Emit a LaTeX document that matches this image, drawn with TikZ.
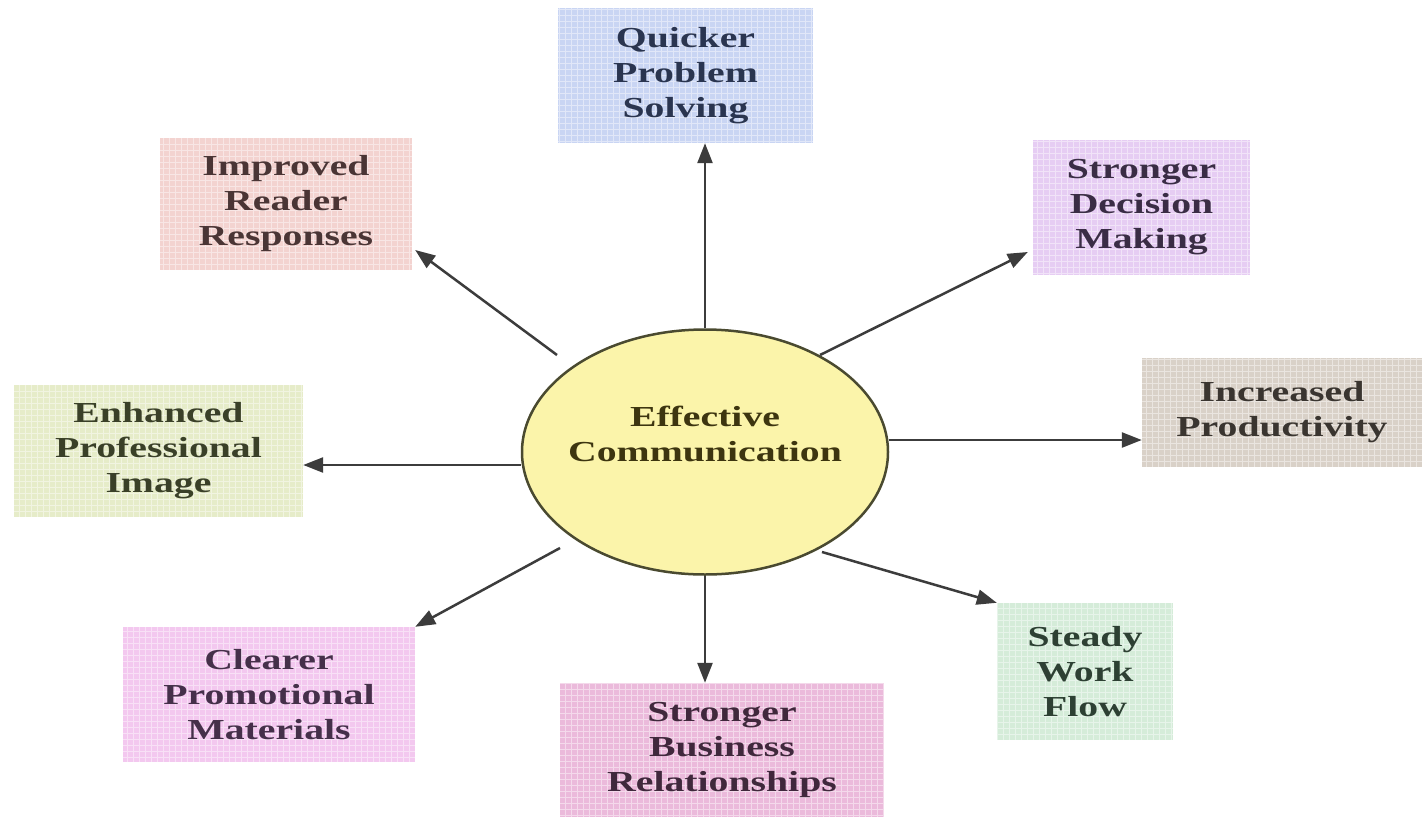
\documentclass[tikz,border=0pt]{standalone}
\usepackage{fontspec}
\setmainfont{Liberation Serif}[FakeStretch=1.37]
\usetikzlibrary{arrows.meta,shapes.geometric}
\definecolor{qfill}{HTML}{C9D5F3}\definecolor{qtext}{HTML}{2A3550}
\definecolor{rfill}{HTML}{F3D3D0}\definecolor{rtext}{HTML}{4A3535}
\definecolor{dfill}{HTML}{E6CDF3}\definecolor{dtext}{HTML}{3A2D45}
\definecolor{pfill}{HTML}{D9D1C8}\definecolor{ptext}{HTML}{3A3530}
\definecolor{efill}{HTML}{E6ECC9}\definecolor{etext}{HTML}{3A4028}
\definecolor{cfill}{HTML}{F3C8EF}\definecolor{ctext}{HTML}{45304A}
\definecolor{bfill}{HTML}{EBBADB}\definecolor{btext}{HTML}{40283C}
\definecolor{wfill}{HTML}{D5ECD9}\definecolor{wtext}{HTML}{2D4033}
\definecolor{ellfill}{HTML}{FBF4AA}\definecolor{elldraw}{HTML}{4A4A30}\definecolor{elltext}{HTML}{3D3510}
\definecolor{arrowcol}{HTML}{3C3C3C}
\tikzset{
  outcome/.style={rectangle, inner sep=0pt, align=center,
    font=\bfseries\fontsize{29}{35}\selectfont,
    path picture={\draw[white,line width=0.6pt,opacity=0.45]
      (path picture bounding box.south west) grid[step=6pt] (path picture bounding box.north east);}},
  hub/.style={ellipse, draw=elldraw, line width=2.5pt, fill=ellfill, inner sep=0pt,
    text=elltext, font=\bfseries\fontsize{29}{35}\selectfont},
  link/.style={draw=arrowcol, line width=2.5pt, -{Triangle[length=20pt,width=15pt]}}
}
\begin{document}
\begin{tikzpicture}[x=1pt,y=-1pt]
\useasboundingbox[fill=white] (0,0) rectangle (1425,817);
\node[hub, minimum width=366pt, minimum height=245pt] (c) at (705,452)
  {\makebox[0pt]{\begin{tabular}{@{}c@{}}Effective\\Communication\end{tabular}\rule[-59pt]{0pt}{0pt}}};
\node[outcome, fill=qfill, text=qtext, minimum width=255pt, minimum height=135pt] (q) at (685.5,75.5) {Quicker\\Problem\\Solving};
\node[outcome, fill=rfill, text=rtext, minimum width=252pt, minimum height=132pt] (r) at (286,204) {Improved\\Reader\\Responses};
\node[outcome, fill=dfill, text=dtext, minimum width=217pt, minimum height=135pt] (d) at (1141.5,207.5) {Stronger\\Decision\\Making};
\node[outcome, fill=pfill, text=ptext, minimum width=280pt, minimum height=109pt] (p) at (1282,412.5) {Increased\\Productivity};
\node[outcome, fill=efill, text=etext, minimum width=289pt, minimum height=132pt] (e) at (158.5,451) {Enhanced\\Professional\\Image};
\node[outcome, fill=cfill, text=ctext, minimum width=292pt, minimum height=135pt] (cp) at (269,694.5) {Clearer\\Promotional\\Materials};
\node[outcome, fill=bfill, text=btext, minimum width=324pt, minimum height=134pt] (b) at (722,750) {Stronger\\Business\\Relationships};
\node[outcome, fill=wfill, text=wtext, minimum width=176pt, minimum height=137pt] (w) at (1085,671.5) {Steady\\Work\\Flow};
% connectors
\draw[link] (c.north) -- (c.north |- q.south);
\draw[link] ([xshift=-148pt,yshift=97pt]c.center) -- ([xshift=3pt,yshift=-46pt]r.east);
\draw[link] ([xshift=115pt,yshift=97pt]c.center) -- ([xshift=-5pt,yshift=-44.5pt]d.west);
\draw[link] ([yshift=12pt]c.east) -- ([yshift=12pt]c.east -| p.west);
\draw[link] ([yshift=-13pt]c.west) -- ([yshift=-13pt]c.west -| e.east);
\draw[link] ([xshift=-145pt,yshift=-96pt]c.center) -- (cp.north east);
\draw[link] (c.south) -- (c.south |- b.north);
\draw[link] ([xshift=117pt,yshift=-100pt]c.center) -- (w.north west);
\end{tikzpicture}
\end{document}
